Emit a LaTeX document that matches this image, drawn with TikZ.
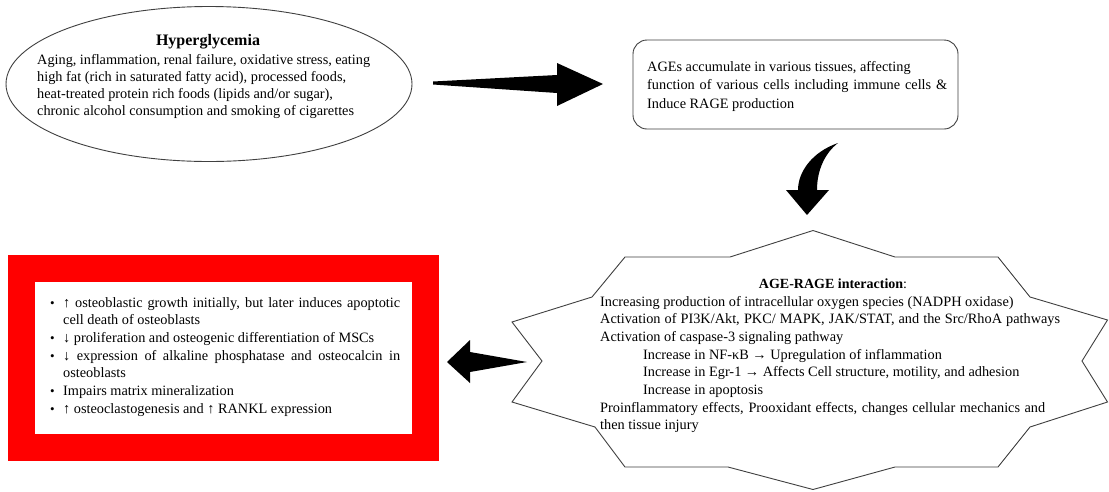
\documentclass[tikz,border=0pt]{standalone}
\usepackage{fontspec}
\setmainfont{Liberation Serif}
\usetikzlibrary{shapes.geometric,calc}
\tikzset{
  txt/.style={anchor=base west, inner sep=0pt, font=\fontsize{14.3}{17.7}\selectfont},
  ttl/.style={anchor=base, inner sep=0pt, font=\fontsize{14}{17}\selectfont\bfseries},
  outline/.style={draw=black!75, line width=0.9pt},
  blockarrow/.style={fill=black, draw=none},
}
\newcommand{\jl}[2]{\makebox[#1][s]{#2}}
\newcommand{\bul}{\makebox[13pt][l]{\fontsize{13}{13}\selectfont•}}
\begin{document}
\begin{tikzpicture}[x=1pt,y=-1pt]
\useasboundingbox (0,0) rectangle (1109,491);
\fill[white] (0,0) rectangle (1109,491);

% Hyperglycemia ellipse
\node[ellipse, outline, minimum width=406pt, minimum height=155pt, inner sep=0pt] (hyper) at (209,84) {};
\node[ttl, font=\fontsize{16}{18}\selectfont\bfseries] (hypt) at (208,45) {Hyperglycemia};
\node[txt, font=\fontsize{14.3}{17.3}\selectfont] (hypx) at (37,64) {\parbox[t]{380pt}{%
\jl{333pt}{Aging, inflammation, renal failure, oxidative stress, eating}\\
high fat (rich in saturated fatty acid), processed foods,\\
heat-treated protein rich foods (lipids and/or sugar),\\
chronic alcohol consumption and smoking of cigarettes}};

% AGEs box
\node[draw=black!75, line width=0.9pt, rounded corners=14pt, minimum width=325pt, minimum height=89pt, inner sep=0pt] (ages) at (795.5,84.5) {};
\node[txt, font=\fontsize{14.3}{18.5}\selectfont] (agesx) at (647,71) {\parbox[t]{320pt}{%
AGEs accumulate in various tissues, affecting\\
\jl{300pt}{function of various cells including immune cells \&}\\
Induce RAGE production}};

% AGE-RAGE star
\draw[outline] (813,230.5) -- (730,257) -- (625,257) -- (592,297) -- (512,322) -- (542,361) -- (512,402) -- (595,427) -- (625,467) -- (728,467) -- (813,489.5) -- (895,467) -- (998,467) -- (1030,427) -- (1107.5,402) -- (1082,361) -- (1107.5,320) -- (1030,297) -- (998,257) -- (895,257) -- cycle;
\coordinate (rage) at (810,360);
\node[ttl] (raget) at (833,288) {AGE-RAGE interaction\textmd{:}};
\node[txt] (ragex) at (600,306) {\parbox[t]{500pt}{%
Increasing production of intracellular oxygen species (NADPH oxidase)\\
\jl{460pt}{Activation of PI3K/Akt, PKC/ MAPK, JAK/STAT, and the Src/RhoA pathways}\\
Activation of caspase-3 signaling pathway\\
\hspace*{43pt}Increase in NF-κB → Upregulation of inflammation\\
\hspace*{43pt}Increase in Egr-1 → Affects Cell structure, motility, and adhesion\\
\hspace*{43pt}Increase in apoptosis\\
\jl{445pt}{Proinflammatory effects, Prooxidant effects, changes cellular mechanics and}\\
then tissue injury}};

% Red effects box
\node[draw=red, line width=27pt, fill=white, minimum width=404pt, minimum height=179pt, inner sep=0pt] (bone) at (223.5,358) {};
\node[txt] (bonex) at (50,307) {\parbox[t]{380pt}{%
\bul\jl{337pt}{↑ osteoblastic growth initially, but later induces apoptotic}\\
\hspace*{13pt}cell death of osteoblasts\\
\bul↓ proliferation and osteogenic differentiation of MSCs\\
\bul\jl{337pt}{↓ expression of alkaline phosphatase and osteocalcin in}\\
\hspace*{13pt}osteoblasts\\
\bul Impairs matrix mineralization\\
\bul↑ osteoclastogenesis and ↑ RANKL expression}};

% block arrows
\coordinate (a1s) at (433,83);
\coordinate (a1e) at (603,84);
\fill[blockarrow] ($(a1s)+(0,-1.5)$) -- (557,75) -- (557,63) -- (a1e) -- (557,106) -- (557,93) -- ($(a1s)+(0,1.5)$) -- cycle;

\coordinate (a2s) at (838,143);
\coordinate (a2e) at (807,215);
\fill[blockarrow] (a2s) .. controls (812,152) and (798,172) .. (798,190) -- (786,190) -- (a2e) -- (829,190) -- (817,190) .. controls (817,170) and (825,153) .. (a2s) -- cycle;

\coordinate (a3s) at (527,362);
\coordinate (a3e) at (447,362);
\fill[blockarrow] (a3s) -- (470,352) -- (470,340) -- (a3e) -- (470,383) -- (470,372) -- cycle;
\end{tikzpicture}
\end{document}
